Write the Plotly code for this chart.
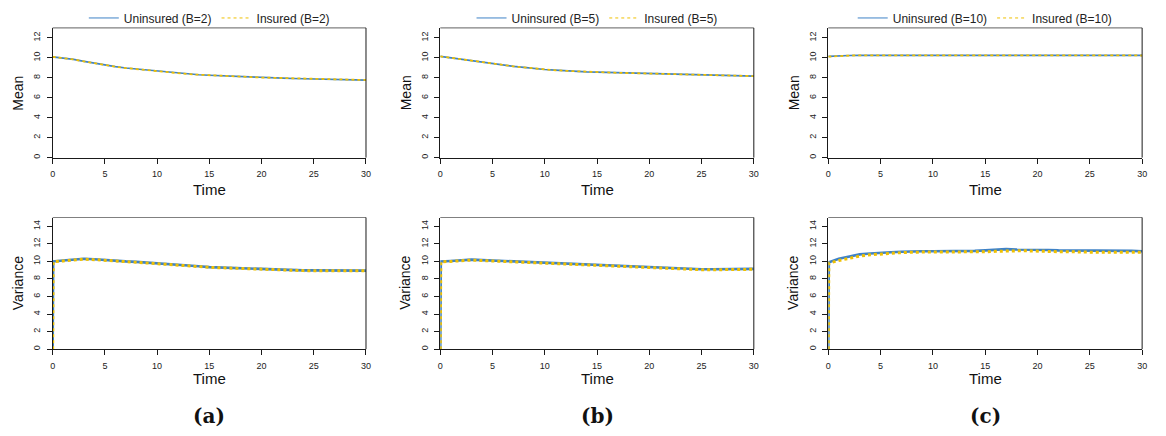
import plotly.graph_objects as go

# ---------------- data ----------------
time_mean = list(range(0, 31))
time_var = [0, 0.05] + list(range(1, 31))

mean_unins_b2 = [10.1, 10.0, 9.85, 9.65, 9.45, 9.27, 9.12, 8.98, 8.88, 8.76, 8.67, 8.55, 8.45, 8.37, 8.3,
                 8.25, 8.2, 8.17, 8.12, 8.08, 8.04, 8.0, 7.97, 7.93, 7.9, 7.87, 7.85, 7.83, 7.81, 7.79, 7.77]
mean_ins_b2 = [10.1, 10.0, 9.84, 9.65, 9.46, 9.27, 9.11, 8.98, 8.87, 8.76, 8.66, 8.55, 8.45, 8.37, 8.31,
               8.25, 8.2, 8.16, 8.12, 8.08, 8.03, 8.0, 7.97, 7.94, 7.9, 7.87, 7.85, 7.84, 7.81, 7.79, 7.78]
mean_unins_b5 = [10.15, 10.0, 9.85, 9.7, 9.55, 9.4, 9.27, 9.15, 9.05, 8.93, 8.83, 8.77, 8.7, 8.65, 8.6,
                 8.57, 8.54, 8.5, 8.48, 8.46, 8.43, 8.4, 8.37, 8.33, 8.28, 8.25, 8.23, 8.21, 8.2, 8.18, 8.17]
mean_ins_b5 = [10.15, 10.0, 9.85, 9.7, 9.54, 9.4, 9.27, 9.15, 9.04, 8.93, 8.83, 8.76, 8.7, 8.65, 8.6,
               8.57, 8.53, 8.5, 8.48, 8.45, 8.43, 8.4, 8.36, 8.32, 8.28, 8.25, 8.23, 8.21, 8.19, 8.18, 8.17]
mean_unins_b10 = [10.15, 10.22, 10.24, 10.25, 10.25, 10.26, 10.25, 10.26, 10.25, 10.26, 10.27, 10.25, 10.24,
                  10.25, 10.25, 10.25, 10.26, 10.27, 10.28, 10.25, 10.24, 10.24, 10.23, 10.22, 10.22, 10.22,
                  10.21, 10.22, 10.22, 10.23, 10.25]
mean_ins_b10 = [10.12, 10.2, 10.23, 10.25, 10.25, 10.25, 10.25, 10.25, 10.24, 10.25, 10.26, 10.25, 10.24,
                10.24, 10.25, 10.25, 10.25, 10.26, 10.27, 10.25, 10.23, 10.22, 10.21, 10.2, 10.2, 10.2,
                10.2, 10.2, 10.21, 10.22, 10.24]

var_unins_b2 = [0, 10.0, 10.1, 10.2, 10.3, 10.25, 10.15, 10.1, 10.0, 9.95, 9.88, 9.8, 9.7, 9.6, 9.52, 9.45,
                9.35, 9.3, 9.27, 9.2, 9.16, 9.12, 9.1, 9.05, 9.0, 8.98, 8.98, 8.96, 8.95, 8.95, 8.92, 8.95]
var_ins_b2 = [0, 9.95, 10.05, 10.15, 10.25, 10.2, 10.1, 10.05, 9.97, 9.9, 9.83, 9.75, 9.66, 9.56, 9.48, 9.41,
              9.32, 9.27, 9.23, 9.17, 9.12, 9.08, 9.05, 9.0, 8.96, 8.95, 8.94, 8.92, 8.91, 8.9, 8.9, 8.92]
var_unins_b5 = [0, 10.0, 10.05, 10.15, 10.2, 10.15, 10.1, 10.05, 10.0, 9.95, 9.9, 9.82, 9.78, 9.72, 9.67,
                9.6, 9.55, 9.5, 9.45, 9.4, 9.35, 9.28, 9.23, 9.2, 9.17, 9.13, 9.1, 9.1, 9.1, 9.12, 9.12, 9.15]
var_ins_b5 = [0, 9.95, 10.0, 10.1, 10.15, 10.1, 10.05, 10.0, 9.96, 9.9, 9.85, 9.78, 9.73, 9.68, 9.62,
              9.56, 9.5, 9.46, 9.4, 9.35, 9.3, 9.23, 9.18, 9.15, 9.12, 9.08, 9.05, 9.05, 9.05, 9.07, 9.08, 9.1]
var_unins_b10 = [0, 9.9, 10.3, 10.55, 10.8, 10.9, 11.0, 11.05, 11.1, 11.15, 11.15, 11.15, 11.15, 11.2, 11.2,
                 11.2, 11.25, 11.3, 11.4, 11.35, 11.35, 11.3, 11.3, 11.25, 11.25, 11.2, 11.25, 11.2, 11.2,
                 11.2, 11.2, 11.15]
var_ins_b10 = [0, 9.8, 10.1, 10.35, 10.6, 10.75, 10.85, 10.95, 11.0, 11.05, 11.05, 11.05, 11.05, 11.05,
               11.05, 11.1, 11.1, 11.15, 11.2, 11.2, 11.2, 11.15, 11.1, 11.1, 11.1, 11.05, 11.05, 11.05,
               11.05, 11.05, 11.05, 11.05]

b_values = [2, 5, 10]
panel_labels = ["(a)", "(b)", "(c)"]
mean_unins = [mean_unins_b2, mean_unins_b5, mean_unins_b10]
mean_ins = [mean_ins_b2, mean_ins_b5, mean_ins_b10]
var_unins = [var_unins_b2, var_unins_b5, var_unins_b10]
var_ins = [var_ins_b2, var_ins_b5, var_ins_b10]

# ---------------- styling ----------------
W, H = 1166, 436
BLUE = "#3F82C6"
YELLOW = "#EFC000"
FONT = "Liberation Sans, Arial, Helvetica, sans-serif"
DASH = "3px,3px"

col_px = [(50, 365.5), (440.3, 756), (831, 1147)]
top_px = (28, 158)
bot_px = (218, 350)


def px_x(v):
    return v / W


def px_y(v):
    return (H - v) / H


fig = go.Figure()
legend_names = ["legend", "legend2", "legend3"]

for c in range(3):
    xa_top = "x%d" % (c + 1) if c > 0 else "x"
    ya_top = "y%d" % (c + 1) if c > 0 else "y"
    xa_bot = "x%d" % (c + 4)
    ya_bot = "y%d" % (c + 4)
    b = b_values[c]
    lg = legend_names[c]
    # top: mean
    fig.add_trace(go.Scatter(x=time_mean, y=mean_unins[c], mode="lines",
                             line=dict(color=BLUE, width=1.6), showlegend=False,
                             name="Uninsured (B=%d)" % b,
                             xaxis=xa_top, yaxis=ya_top))
    fig.add_trace(go.Scatter(x=time_mean, y=mean_ins[c], mode="lines",
                             line=dict(color=YELLOW, width=1.8, dash=DASH), showlegend=False,
                             name="Insured (B=%d)" % b,
                             xaxis=xa_top, yaxis=ya_top))
    # bottom: variance
    fig.add_trace(go.Scatter(x=time_var, y=var_unins[c], mode="lines",
                             line=dict(color=BLUE, width=2.6), showlegend=False,
                             name="Uninsured (B=%d)" % b,
                             xaxis=xa_bot, yaxis=ya_bot))
    fig.add_trace(go.Scatter(x=time_var, y=var_ins[c], mode="lines",
                             line=dict(color=YELLOW, width=3, dash=DASH), showlegend=False,
                             name="Insured (B=%d)" % b,
                             xaxis=xa_bot, yaxis=ya_bot))
    # legend keys (thin, as in the reference legend)
    fig.add_trace(go.Scatter(x=[None], y=[None], mode="lines",
                             line=dict(color=BLUE, width=1), name="Uninsured (B=%d)" % b,
                             legend=lg, xaxis=xa_top, yaxis=ya_top))
    fig.add_trace(go.Scatter(x=[None], y=[None], mode="lines",
                             line=dict(color=YELLOW, width=1, dash=DASH), name="Insured (B=%d)" % b,
                             legend=lg, xaxis=xa_top, yaxis=ya_top))

axis_common = dict(showline=True, linecolor="#1a1a1a", linewidth=1,
                   ticks="outside", ticklen=5, tickwidth=1, tickcolor="#1a1a1a",
                   showgrid=False, zeroline=False,
                   tickfont=dict(family=FONT, size=9, color="#222"))

layout = dict(width=W, height=H, margin=dict(l=0, r=0, t=0, b=0),
              plot_bgcolor="white", paper_bgcolor="white", font=dict(family=FONT))

shapes = []
for c in range(3):
    x0, x1 = col_px[c]
    dom_x = [px_x(x0), px_x(x1)]
    n_top = c + 1
    n_bot = c + 4
    kx_top = "xaxis" if n_top == 1 else "xaxis%d" % n_top
    ky_top = "yaxis" if n_top == 1 else "yaxis%d" % n_top
    kx_bot = "xaxis%d" % n_bot
    ky_bot = "yaxis%d" % n_bot
    anc_y_top = "y" if n_top == 1 else "y%d" % n_top
    anc_x_top = "x" if n_top == 1 else "x%d" % n_top
    layout[kx_top] = dict(axis_common, domain=dom_x, range=[0, 30], dtick=5, tick0=0,
                          anchor=anc_y_top, ticklabelstandoff=3)
    layout[ky_top] = dict(axis_common, domain=[px_y(top_px[1]), px_y(top_px[0])], range=[0, 13],
                          dtick=2, tick0=0, tickangle=-90, anchor=anc_x_top, ticklabelstandoff=3)
    layout[kx_bot] = dict(axis_common, domain=dom_x, range=[0, 30], dtick=5, tick0=0,
                          anchor="y%d" % n_bot, ticklabelstandoff=3)
    layout[ky_bot] = dict(axis_common, domain=[px_y(bot_px[1]), px_y(bot_px[0])], range=[0, 15],
                          dtick=2, tick0=0, tickangle=-90, anchor="x%d" % n_bot, ticklabelstandoff=3)
    layout[legend_names[c]] = dict(orientation="h", x=(dom_x[0] + dom_x[1]) / 2, xanchor="center",
                                   y=px_y(18), yanchor="middle", bgcolor="rgba(0,0,0,0)",
                                   font=dict(family=FONT, size=12, color="#222"),
                                   itemwidth=30, tracegroupgap=0)
    # plot frame: grey top edge, dark right edge
    for (ya, yb) in (top_px, bot_px):
        shapes.append(dict(type="line", xref="paper", yref="paper", x0=px_x(x0), x1=px_x(x1),
                           y0=px_y(ya), y1=px_y(ya), line=dict(color="#808080", width=1.2)))
        shapes.append(dict(type="line", xref="paper", yref="paper", x0=px_x(x1), x1=px_x(x1),
                           y0=px_y(ya), y1=px_y(yb), line=dict(color="#1a1a1a", width=1)))

layout["shapes"] = shapes
fig.update_layout(**layout)

annotations = []
for c in range(3):
    x0, x1 = col_px[c]
    cx = px_x((x0 + x1) / 2)
    annotations.append(dict(text="Mean", x=px_x(x0 - 35), y=px_y(93), xref="paper", yref="paper",
                            showarrow=False, textangle=-90, xanchor="center", yanchor="middle",
                            font=dict(family=FONT, size=14, color="#111")))
    annotations.append(dict(text="Variance", x=px_x(x0 - 35), y=px_y(284), xref="paper", yref="paper",
                            showarrow=False, textangle=-90, xanchor="center", yanchor="middle",
                            font=dict(family=FONT, size=14, color="#111")))
    annotations.append(dict(text="Time", x=cx, y=px_y(190), xref="paper", yref="paper",
                            showarrow=False, xanchor="center", yanchor="middle",
                            font=dict(family=FONT, size=15, color="#111")))
    annotations.append(dict(text="Time", x=cx, y=px_y(379), xref="paper", yref="paper",
                            showarrow=False, xanchor="center", yanchor="middle",
                            font=dict(family=FONT, size=15, color="#111")))
    annotations.append(dict(text="<b>%s</b>" % panel_labels[c], x=cx, y=px_y(417), xref="paper",
                            yref="paper", showarrow=False, xanchor="center", yanchor="middle",
                            font=dict(family="DejaVu Serif, serif", size=20, color="#111")))
fig.update_layout(annotations=annotations)

fig.write_html("out.html")
